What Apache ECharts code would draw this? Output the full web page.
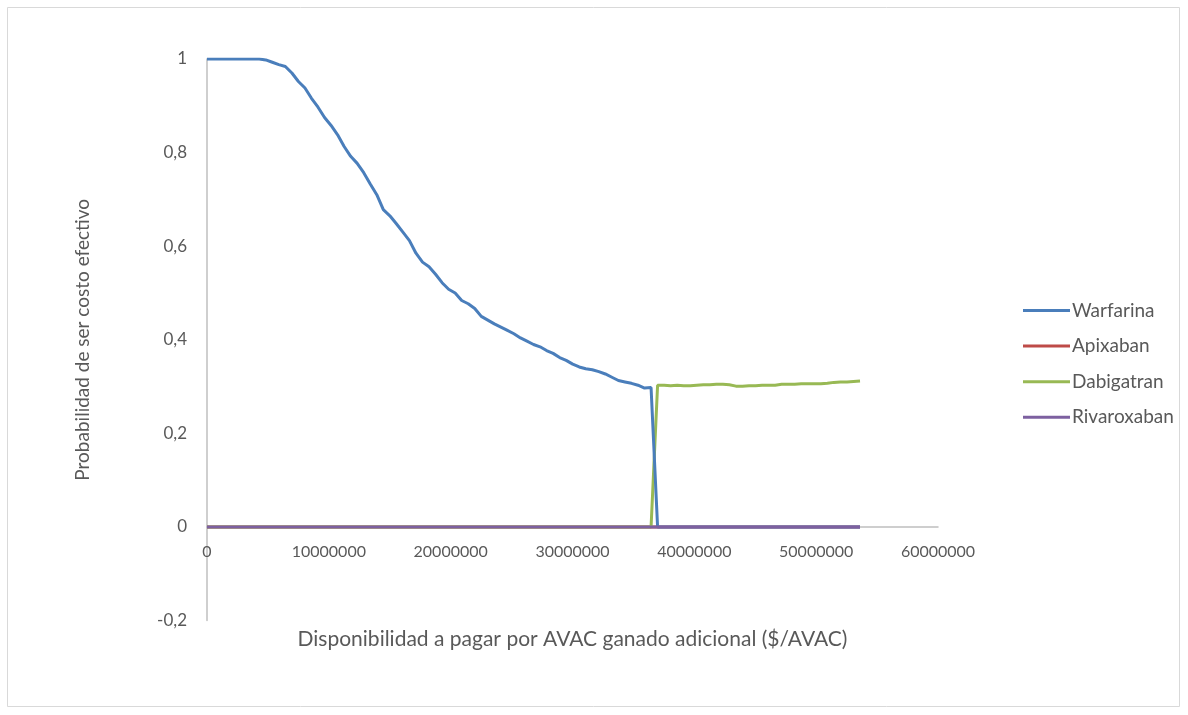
<!DOCTYPE html>
<html>
<head>
<meta charset="utf-8">
<script src="https://cdn.jsdelivr.net/npm/echarts@6/dist/echarts.min.js"></script>
<style>
html,body{margin:0;padding:0;background:#fff;}
#c{width:1188px;height:715px;}
</style>
</head>
<body>
<div id="c"></div>
<script>
// Willingness-to-pay thresholds: 101 points, 536000 $/AVAC apart
const xStep = 536000;
const nPoints = 101;
const seriesNames = ['Warfarina', 'Apixaban', 'Dabigatran', 'Rivaroxaban'];
const warfarina = [
  1, 1, 1, 1, 1, 1, 1, 1, 1, 0.998,
  0.993, 0.988, 0.984, 0.97, 0.952, 0.938, 0.916, 0.897, 0.875, 0.858,
  0.838, 0.813, 0.792, 0.777, 0.757, 0.733, 0.71, 0.678, 0.665, 0.648,
  0.63, 0.612, 0.585, 0.566, 0.556, 0.54, 0.522, 0.508, 0.5, 0.484,
  0.477, 0.467, 0.45, 0.442, 0.434, 0.427, 0.42, 0.413, 0.404, 0.397,
  0.39, 0.385, 0.377, 0.371, 0.362, 0.356, 0.348, 0.342, 0.338, 0.336,
  0.332, 0.327, 0.32, 0.313, 0.31, 0.307, 0.303, 0.297, 0.298, 0,
  0, 0, 0, 0, 0, 0, 0, 0, 0, 0,
  0, 0, 0, 0, 0, 0, 0, 0, 0, 0,
  0, 0, 0, 0, 0, 0, 0, 0, 0, 0,
  0
];
const apixaban = [
  0,0,0,0,0,0,0,0,0,0, 0,0,0,0,0,0,0,0,0,0, 0,0,0,0,0,0,0,0,0,0,
  0,0,0,0,0,0,0,0,0,0, 0,0,0,0,0,0,0,0,0,0, 0,0,0,0,0,0,0,0,0,0,
  0,0,0,0,0,0,0,0,0,0, 0,0,0,0,0,0,0,0,0,0, 0,0,0,0,0,0,0,0,0,0,
  0,0,0,0,0,0,0,0,0,0, 0
];
const dabigatran = [
  0,0,0,0,0,0,0,0,0,0, 0,0,0,0,0,0,0,0,0,0, 0,0,0,0,0,0,0,0,0,0,
  0,0,0,0,0,0,0,0,0,0, 0,0,0,0,0,0,0,0,0,0, 0,0,0,0,0,0,0,0,0,0,
  0,0,0,0,0,0,0,0,0, 0.303,
  0.303, 0.302, 0.303, 0.302, 0.302, 0.303, 0.304, 0.304, 0.305, 0.305,
  0.304, 0.301, 0.301, 0.302, 0.302, 0.303, 0.303, 0.303, 0.305, 0.305,
  0.305, 0.306, 0.306, 0.306, 0.306, 0.307, 0.309, 0.31, 0.31, 0.311,
  0.312
];
const rivaroxaban = [
  0,0,0,0,0,0,0,0,0,0, 0,0,0,0,0,0,0,0,0,0, 0,0,0,0,0,0,0,0,0,0,
  0,0,0,0,0,0,0,0,0,0, 0,0,0,0,0,0,0,0,0,0, 0,0,0,0,0,0,0,0,0,0,
  0,0,0,0,0,0,0,0,0,0, 0,0,0,0,0,0,0,0,0,0, 0,0,0,0,0,0,0,0,0,0,
  0,0,0,0,0,0,0,0,0,0, 0
];
const colors = ['#4A7EBB', '#BE4B48', '#98B954', '#7D60A0'];
const xTitle = 'Disponibilidad a pagar por AVAC ganado adicional ($/AVAC)';
const yTitle = 'Probabilidad de ser costo efectivo';

const xs = [];
for (let i = 0; i < nPoints; i++) xs.push(i * xStep);
const pairs = arr => arr.map((v, i) => [xs[i], v]);

const font = 'Lato, "Open Sans", sans-serif';
const txt = '#595959';
const gridTop = 59, gridH = 561.6, yMin = -0.2, yMax = 1;
// x axis drawn at value 0 (crossing like the original)
const xAxisOffset = -gridH * (0 - yMin) / (yMax - yMin);

const chart = echarts.init(document.getElementById('c'));
chart.setOption({
  animation: false,
  backgroundColor: '#fff',
  color: colors,
  graphic: [{
    type: 'rect',
    shape: { x: 7.5, y: 7.5, width: 1172, height: 699 },
    style: { fill: 'none', stroke: '#d9d9d9', lineWidth: 1 },
    silent: true
  }],
  grid: { left: 207, top: gridTop, width: 731, height: gridH, containLabel: false, outerBoundsMode: 'none' },
  legend: {
    orient: 'vertical',
    left: 1018,
    top: 296,
    itemGap: 16.6,
    itemWidth: 47,
    itemHeight: 20,
    icon: 'path://M0,9 L47,9 L47,12 L0,12 Z',
    textStyle: { color: txt, fontSize: 19, fontFamily: font, padding: [0, 0, 0, -3] },
    data: seriesNames
  },
  xAxis: {
    type: 'value',
    min: 0, max: 60000000, interval: 10000000,
    offset: xAxisOffset,
    splitLine: { show: false },
    axisTick: { show: false },
    axisLine: { onZero: false, lineStyle: { color: '#bfbfbf', width: 1.5 } },
    axisLabel: { color: txt, fontSize: 16, fontFamily: font, margin: 17, formatter: v => String(v) },
    name: xTitle,
    nameLocation: 'middle',
    nameGap: 102,
    nameTextStyle: { color: txt, fontSize: 21, fontFamily: font }
  },
  yAxis: {
    type: 'value',
    min: yMin, max: yMax, interval: 0.2,
    splitLine: { show: false },
    axisTick: { show: false },
    axisLine: { show: true, lineStyle: { color: '#bfbfbf', width: 1.5 } },
    axisLabel: { color: txt, fontSize: 17, fontFamily: font, margin: 20,
      formatter: v => String(+v.toFixed(1)).replace('.', ',') },
    name: yTitle,
    nameLocation: 'middle',
    nameGap: 115,
    nameRotate: 90,
    nameTextStyle: { color: txt, fontSize: 19, fontFamily: font }
  },
  series: [
    { name: seriesNames[0], type: 'line', data: pairs(warfarina), showSymbol: false, lineStyle: { width: 3, color: colors[0] }, z: 4 },
    { name: seriesNames[1], type: 'line', data: pairs(apixaban), showSymbol: false, lineStyle: { width: 3, color: colors[1] }, z: 2 },
    { name: seriesNames[2], type: 'line', data: pairs(dabigatran), showSymbol: false, lineStyle: { width: 3, color: colors[2] }, z: 3 },
    { name: seriesNames[3], type: 'line', data: pairs(rivaroxaban), showSymbol: false, lineStyle: { width: 3, color: colors[3] }, z: 5 }
  ]
});
</script>
</body>
</html>
